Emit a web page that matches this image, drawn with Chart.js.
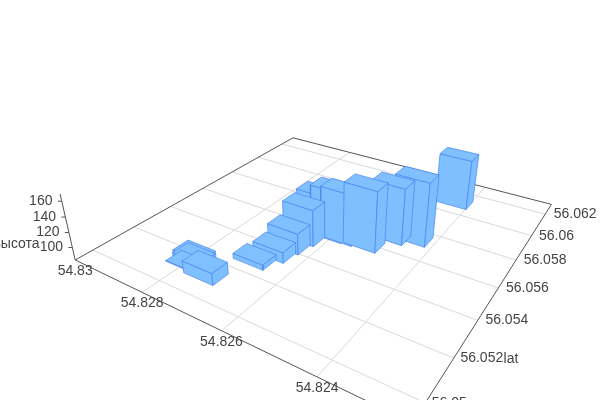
<!DOCTYPE html><html><head><meta charset="utf-8"><style>html,body{margin:0;background:#fff;overflow:hidden}#w{width:600px;height:400px}</style></head><body><div id="w"><canvas id="c" width="600" height="400"></canvas></div>
<script src="https://cdn.jsdelivr.net/npm/chart.js@4/dist/chart.umd.min.js"></script>
<script>
// Data
const barLon=[54.8274,54.8269,54.8267,54.82662,54.82653,54.82656,54.8261,54.82585,54.8253,54.82496,54.82452,54.82437,54.82795,54.8280,54.82808];
const barLat=[56.0512,56.05285,56.05359,56.05433,56.0551,56.0561,56.05585,56.0559,56.05598,56.05699,56.05736,56.06098,56.05165,56.05137,56.05188];
const barHeight=[98.7,89.8,97.4,111.3,132.2,134,150,151.5,164.4,158.9,168.3,153.2,91,84,88];
const lonTicks=[54.83,54.828,54.826,54.824];
const latTicks=[56.05,56.052,56.054,56.056,56.058,56.06,56.062];
const zTicks=[100,120,140,160];

// Camera: floor homography + vertical vanishing point
const Q=[[93,250],[332,360],[477,196],[282,144]],VP=[324,1352];
const lonExt=[54.82234,54.83],latExt=[56.04921,56.063],zExt=[83,169],barDL=0.00078,barDT=0.0008;
const [x0,y0]=Q[0],[x1,y1]=Q[1],[x2,y2]=Q[2],[x3,y3]=Q[3];
const dx1=x1-x2,dx2=x3-x2,sx=x0-x1+x2-x3,dy1=y1-y2,dy2=y3-y2,sy=y0-y1+y2-y3;
const den=dx1*dy2-dx2*dy1,g=(sx*dy2-dx2*sy)/den,h=(dx1*sy-sx*dy1)/den;
const a=x1-x0+g*x1,b=x3-x0+h*x3,c=x0,d=y1-y0+g*y1,e=y3-y0+h*y3,f=y0;
const K=-0.0569*0.9765/86;
function P(lon,lat,z){
  const u=(54.83-lon)/0.006,v=(lat-56.05)/0.012,t=(z===undefined?zExt[0]:z)-zExt[0];
  const w=g*u+h*v+1,q=K*t;
  return {x:(a*u+b*v+c+q*VP[0])/(w+q),y:(d*u+e*v+f+q*VP[1])/(w+q)};
}
const ds=[];
function line(pts,color,width){ds.push({data:pts,showLine:true,pointRadius:0,borderColor:color,borderWidth:width,fill:false,tension:0});}
function face(pts,fillC){ds.push({data:[...pts,pts[0]],showLine:true,pointRadius:0,borderColor:'rgba(72,132,240,0.7)',borderWidth:1,backgroundColor:fillC,fill:'shape',tension:0});}
const [L0,L1]=lonExt,[T0,T1]=latExt;
latTicks.forEach(t=>line([P(L0,t),P(L1,t)],'#d9d9d9',1));
lonTicks.slice(1).forEach(l=>line([P(l,T0),P(l,T1)],'#d9d9d9',1));
const ax='#555';
line([P(L1,T0),P(L1,T1),P(L0,T1),P(L0,T0),P(L1,T0)],ax,1);
line([P(L1,T0,zExt[0]),P(L1,T0,zExt[1])],ax,1);
zTicks.forEach(z=>{const p=P(L1,T0,z);line([p,{x:p.x-4,y:p.y}],ax,1);});
const idx=barLon.map((_,i)=>i).sort((i,j)=>(2*barLat[j]+barLon[j])-(2*barLat[i]+barLon[i]));
idx.forEach(i=>{
  const l0=barLon[i]-barDL/2,l1=barLon[i]+barDL/2,t0=barLat[i]-barDT/2,t1=barLat[i]+barDT/2,z=barHeight[i];
  face([P(l1,t0),P(l0,t0),P(l0,t0,z),P(l1,t0,z)],'#7ebfff');
  face([P(l0,t0),P(l0,t1),P(l0,t1,z),P(l0,t0,z)],'#7dbeff');
  face([P(l1,t0,z),P(l0,t0,z),P(l0,t1,z),P(l1,t1,z)],'#80c0ff');
});
const latNudge=[-5,-1,0,0,0,-4,1];
const labels={id:'labels',afterDraw(ch){
  const s=ch.ctx,X=ch.scales.x,Y=ch.scales.y;
  s.save();s.fillStyle='#444';s.font='14px "Liberation Sans"';s.textAlign='center';s.textBaseline='middle';
  const put=(t,p,dx,dy)=>s.fillText(t,X.getPixelForValue(p.x)+dx,Y.getPixelForValue(p.y)+dy);
  lonTicks.forEach(l=>put(String(l),P(l,T0),0,11));
  latTicks.forEach((t,i)=>put(String(t),P(L0,t),29+latNudge[i],0));
  zTicks.forEach(z=>put(String(z),P(L1,T0,z),-21,0));
  s.fillText('высота',16.5,244);
  s.fillText('lat',511,359);
  s.restore();
}};
new Chart(document.getElementById('c'),{type:'scatter',data:{datasets:ds.reverse()},options:{responsive:false,animation:false,events:[],layout:{padding:0},plugins:{legend:{display:false},tooltip:{enabled:false}},
 scales:{x:{type:'linear',min:0,max:600,display:false},y:{type:'linear',min:0,max:400,reverse:true,display:false}}},plugins:[labels]});
</script></body></html>
